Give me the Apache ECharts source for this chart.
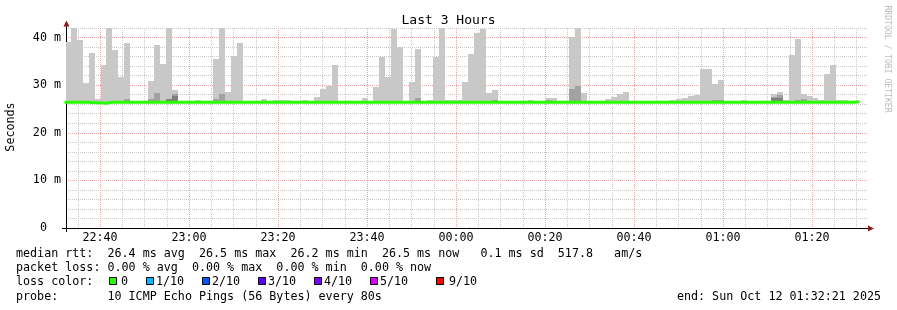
<!DOCTYPE html>
<html><head><meta charset="utf-8">
<script src="https://cdn.jsdelivr.net/npm/echarts@6/dist/echarts.min.js"></script>
<style>html,body{margin:0;padding:0;background:#fff}#c{width:897px;height:310px}</style>
</head><body><div id="c"></div>
<script>
// ---- data (times in minutes after 22:00, Oct 11) ----
const viewStart = '22:32:21';
const viewEnd = '01:32:21';
const firstStep = '22:32:00';      // left edge of first 80 s step
const stepSeconds = 80;
const timeTicks = ['22:40','23:00','23:20','23:40','00:00','00:20','00:40','01:00','01:20'];
const yTickValues = [0, 10, 20, 30, 40];
const yTickLabels = ['0  ', '10 m', '20 m', '30 m', '40 m'];

// top of the lightest smoke (highest ping), ms
const rttMax = [
  39.1, 42.0, 39.5, 30.5, 36.8, 27.1, 34.2, 42.0, 37.4, 31.7,
  38.9, 26.75, 26.75, 26.5, 30.9, 38.4, 34.4, 42.0, 29.0, 26.6,
  26.5, 26.5, 26.9, 26.5, 26.5, 35.5, 42.0, 28.5, 36.1, 38.9,
  26.5, 26.5, 26.5, 27.1, 26.75, 26.9, 26.9, 26.9, 26.5, 26.5,
  26.9, 26.5, 27.5, 29.2, 29.9, 34.2, 26.5, 26.5, 26.7, 26.7,
  27.3, 26.5, 29.65, 35.95, 31.7, 41.8, 38.05, 26.5, 30.65, 37.6,
  26.5, 26.9, 35.95, 42.0, 26.9, 26.9, 26.9, 30.65, 36.55, 40.95,
  41.8, 28.35, 29.0, 26.5, 26.5, 26.5, 26.5, 26.5, 26.9, 26.5,
  26.5, 27.3, 27.3, 26.5, 26.5, 40.15, 42.0, 28.35, 26.5, 26.5,
  26.5, 27.1, 27.5, 28.15, 28.55, 26.5, 26.5, 26.5, 26.5, 26.5,
  26.5, 26.5, 26.9, 27.1, 27.3, 27.75, 27.95, 33.4, 33.4, 30.25,
  31.1, 26.5, 26.5, 26.5, 26.9, 26.5, 26.5, 26.5, 26.5, 28.15,
  28.55, 26.9, 36.35, 39.7, 28.15, 27.7, 27.3, 26.9, 32.35, 34.25,
  26.9, 26.9, 26.5, 26.5
];
// top of the middle smoke layer, ms
const rttMid = [
  null, null, null, null, null, null, null, null, null, null,
  27.1, null, null, null, 27.1, 28.35, null, 27.1, 28.2, null,
  null, null, null, null, null, 27.1, 28.15, null, null, null,
  null, null, null, null, null, null, null, null, null, null,
  null, null, null, null, null, null, null, null, null, null,
  null, null, null, null, null, null, null, null, null, 27.3,
  null, null, null, null, null, null, null, null, null, null,
  null, null, 26.9, null, null, null, null, null, null, null,
  null, 26.9, null, null, null, 29.15, 29.8, null, null, null,
  null, null, null, null, null, null, null, null, null, null,
  null, null, null, null, null, null, null, null, null, 26.9,
  26.9, null, null, null, null, null, null, null, null, 27.6,
  27.95, null, null, 26.9, 27.1, null, null, null, null, null,
  null, null, null, null
];
// top of the dark smoke layer, ms
const rttDark = [
  null, null, null, null, null, null, null, null, null, null,
  null, null, null, null, null, null, null, 27.0, 27.7, null,
  null, null, null, null, null, null, null, null, null, null,
  null, null, null, null, null, null, null, null, null, null,
  null, null, null, null, null, null, null, null, null, null,
  null, null, null, null, null, null, null, null, null, null,
  null, null, null, null, null, null, null, null, null, null,
  null, null, null, null, null, null, null, null, null, null,
  null, null, null, null, null, null, null, null, null, null,
  null, null, null, null, null, null, null, null, null, null,
  null, null, null, null, null, null, null, null, null, null,
  null, null, null, null, null, null, null, null, null, 27.2,
  27.3, null, null, null, null, null, null, null, null, null,
  null, null, null, null
];
// median rtt, ms
const rttMedian = [
  26.4, 26.4, 26.4, 26.4, 26.3, 26.3, 26.2, 26.4, 26.4, 26.4,
  26.4, 26.4, 26.4, 26.4, 26.4, 26.4, 26.4, 26.4, 26.4, 26.4,
  26.4, 26.4, 26.4, 26.4, 26.4, 26.4, 26.4, 26.4, 26.4, 26.4,
  26.4, 26.4, 26.4, 26.4, 26.4, 26.4, 26.4, 26.4, 26.4, 26.4,
  26.4, 26.4, 26.4, 26.4, 26.4, 26.4, 26.4, 26.4, 26.4, 26.4,
  26.4, 26.4, 26.4, 26.4, 26.4, 26.4, 26.4, 26.4, 26.4, 26.4,
  26.4, 26.4, 26.4, 26.4, 26.4, 26.4, 26.4, 26.4, 26.4, 26.4,
  26.4, 26.4, 26.4, 26.4, 26.4, 26.4, 26.4, 26.4, 26.4, 26.4,
  26.4, 26.4, 26.4, 26.4, 26.4, 26.4, 26.4, 26.4, 26.4, 26.4,
  26.4, 26.4, 26.4, 26.4, 26.4, 26.4, 26.4, 26.4, 26.4, 26.4,
  26.4, 26.4, 26.4, 26.4, 26.4, 26.4, 26.4, 26.4, 26.4, 26.4,
  26.4, 26.4, 26.4, 26.4, 26.4, 26.4, 26.4, 26.4, 26.4, 26.4,
  26.4, 26.4, 26.4, 26.4, 26.4, 26.4, 26.4, 26.4, 26.4, 26.4,
  26.4, 26.4, 26.4, 26.5
];
const lossLabels = ['0', '1/10', '2/10', '3/10', '4/10', '5/10', '9/10'];
const lossColors = ['#26ff00', '#00b8ff', '#0059ff', '#5e00ff', '#7e00ff', '#dd00ff', '#ff0000'];

// ---- helpers ----
function toMin(s) {
  const p = s.split(':').map(Number);
  let h = p[0]; if (h < 12) h += 24;
  return (h - 22) * 60 + p[1] + (p[2] || 0) / 60;
}
const MONO = 'DejaVu Sans Mono';
const FS = 11.7;
const RED = '#f2a4a4', GRAY = '#c8c8c8';
const x0 = toMin(viewStart), x1 = toMin(viewEnd);
const s0 = toMin(firstStep), stepMin = stepSeconds / 60;

function layer(tops) {
  const out = [];
  tops.forEach((v, i) => {
    if (v == null || v <= rttMedian[i]) return;
    const a = s0 + i * stepMin;
    out.push([a, a + stepMin, rttMedian[i], v]);
  });
  return out;
}
function smoke(color) {
  return function (params, api) {
    const a = api.coord([api.value(0), api.value(3)]);
    const b = api.coord([api.value(1), api.value(2)]);
    const xa = Math.ceil(a[0]), xb = Math.ceil(b[0]);
    const ya = Math.round(a[1]), yb = Math.round(b[1]);
    const cs = params.coordSys;
    const r = echarts.graphic.clipRectByRect(
      { x: xa, y: ya, width: xb - xa, height: yb - ya },
      { x: cs.x, y: cs.y, width: cs.width, height: cs.height });
    if (!r) return null;
    return { type: 'rect', shape: r, style: { fill: color } };
  };
}
const medLine = rttMedian.map((v, i) => [s0 + i * stepMin, v]);
medLine.push([s0 + rttMedian.length * stepMin, rttMedian[rttMedian.length - 1]]);

// ---- graphics (text, legend boxes, axis arrows) ----
const g = [];
function txt(x, y, text, extra) {
  g.push(Object.assign({ type: 'text', x: x, y: y, silent: true,
    style: Object.assign({ text: text, font: FS + 'px "' + MONO + '"', fill: '#000',
      align: 'left', verticalAlign: 'middle' }, extra || {}) }));
}
txt(16, 254, 'median rtt:  26.4 ms avg  26.5 ms max  26.2 ms min  26.5 ms now   0.1 ms sd  517.8   am/s');
txt(16, 268.3, 'packet loss: 0.00 % avg  0.00 % max  0.00 % min  0.00 % now');
txt(16, 282, 'loss color:');
txt(16, 296.6, 'probe:       10 ICMP Echo Pings (56 Bytes) every 80s');
txt(881, 296.6, 'end: Sun Oct 12 01:32:21 2025', { align: 'right' });
const boxX = [109, 146, 202, 258, 314, 370, 436];
const lblX = [121, 156, 212, 268, 324, 380, 449];
lossLabels.forEach((l, i) => {
  g.push({ type: 'rect', silent: true, shape: { x: boxX[i] + 0.5, y: 277.5, width: 7, height: 7 },
    style: { fill: lossColors[i], stroke: '#000', lineWidth: 1 } });
  txt(lblX[i], 282, l);
});
// axis title
g.push({ type: 'text', x: 11, y: 127, rotation: Math.PI / 2, silent: true,
  style: { text: 'Seconds', font: FS + 'px "' + MONO + '"', fill: '#000', align: 'center', verticalAlign: 'middle' } });
// watermark
g.push({ type: 'text', x: 887, y: 59, rotation: -Math.PI / 2, silent: true,
  style: { text: 'RRDTOOL / TOBI OETIKER', font: '8.1px "' + MONO + '"', fill: '#bcbcbc', align: 'center', verticalAlign: 'middle' } });
// axis extensions + arrows
g.push({ type: 'line', silent: true, shape: { x1: 66.5, y1: 232, x2: 66.5, y2: 24 }, style: { stroke: '#000', lineWidth: 1 } });
g.push({ type: 'line', silent: true, shape: { x1: 62, y1: 228.5, x2: 871, y2: 228.5 }, style: { stroke: '#000', lineWidth: 1 } });
g.push({ type: 'polygon', silent: true, shape: { points: [[66.5, 20.5], [63.5, 26.5], [69.5, 26.5]] }, style: { fill: '#8c1c1c' } });
g.push({ type: 'polygon', silent: true, shape: { points: [[874, 228.5], [868, 225.5], [868, 231.5]] }, style: { fill: '#8c1c1c' } });

const option = {
  animation: false,
  backgroundColor: '#fff',
  title: { text: 'Last 3 Hours', left: 'center', top: 9,
    textStyle: { fontFamily: MONO, fontSize: 13, fontWeight: 'normal', color: '#000' } },
  grid: { left: 66, right: 30, top: 28, height: 200, containLabel: false, outerBoundsMode: 'none' },
  xAxis: {
    type: 'value', min: x0, max: x1, minInterval: 20, maxInterval: 20, splitNumber: 9,
    axisLine: { show: true, onZero: false, lineStyle: { color: '#000', width: 1 } },
    axisTick: { show: false },
    minorTick: { show: false, splitNumber: 4 },
    axisLabel: { margin: 4, color: '#000', fontFamily: MONO, fontSize: FS,
      showMinLabel: false, showMaxLabel: false,
      formatter: v => { const i = Math.round((v - 40) / 20); return (Math.abs(v - 40 - i * 20) < 0.01 && timeTicks[i]) || ''; } },
    splitLine: { show: true, showMinLine: false, showMaxLine: false, lineStyle: { color: RED, type: [1, 1], width: 1 } },
    minorSplitLine: { show: true, lineStyle: { color: GRAY, type: [1, 1], width: 1 } }
  },
  yAxis: {
    type: 'value', min: 0, max: 42, interval: 2,
    axisLine: { show: true, lineStyle: { color: '#000', width: 1 } },
    axisTick: { show: false },
    axisLabel: { margin: 5, color: '#000', fontFamily: MONO, fontSize: FS,
      formatter: v => { const i = yTickValues.indexOf(v); return i >= 0 ? yTickLabels[i] : ''; } },
    splitLine: { show: true, lineStyle: { color: [RED, GRAY, GRAY, GRAY, GRAY], type: [1, 1], width: 1 } }
  },
  series: [
    { type: 'custom', name: 'smoke1', renderItem: smoke('#c8c8c8'), data: layer(rttMax), encode: { x: [0, 1], y: [2, 3] }, z: 2, silent: true },
    { type: 'custom', name: 'smoke2', renderItem: smoke('#a2a2a2'), data: layer(rttMid), encode: { x: [0, 1], y: [2, 3] }, z: 3, silent: true },
    { type: 'custom', name: 'smoke3', renderItem: smoke('#7e7e7e'), data: layer(rttDark), encode: { x: [0, 1], y: [2, 3] }, z: 4, silent: true },
    { type: 'line', name: 'median', data: medLine, step: 'end', showSymbol: false, symbol: 'none',
      lineStyle: { color: '#26ff00', width: 3 }, z: 5, silent: true }
  ],
  graphic: g
};
const chart = echarts.init(document.getElementById('c'), null, { renderer: 'canvas', width: 897, height: 310 });
chart.setOption(option);
</script></body></html>
